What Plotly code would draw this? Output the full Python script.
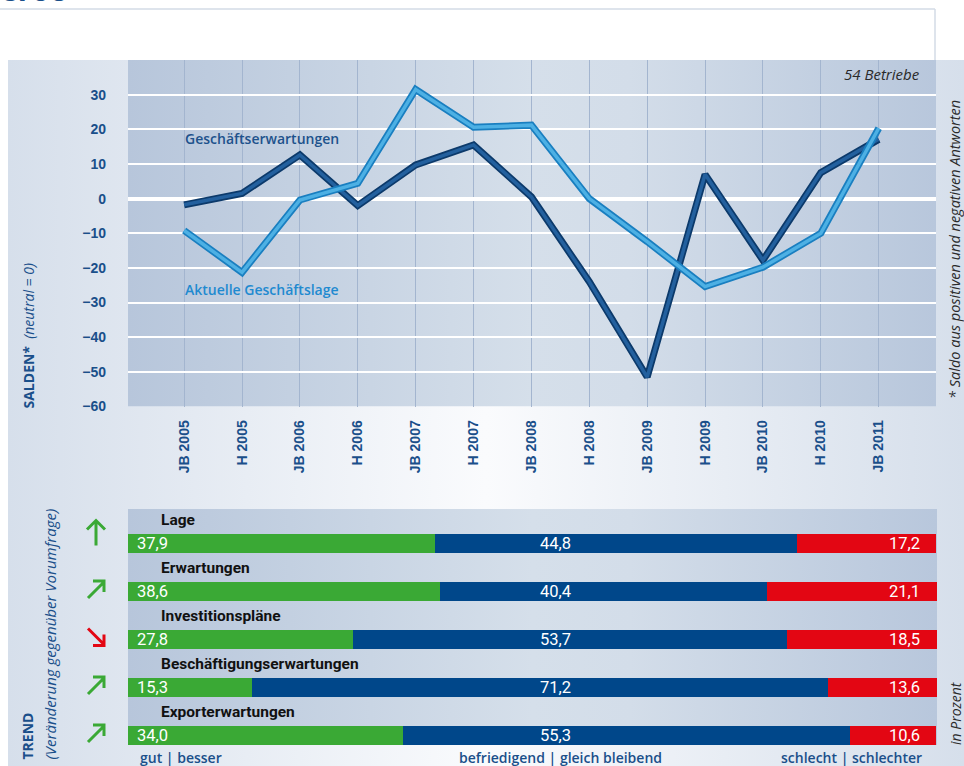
import base64
import plotly.graph_objects as go

# ---------------- data ----------------
categories = ["JB 2005", "H 2005", "JB 2006", "H 2006", "JB 2007", "H 2007", "JB 2008",
              "H 2008", "JB 2009", "H 2009", "JB 2010", "H 2010", "JB 2011"]
erwartungen = [-1.8, 1.5, 12.6, -2.0, 9.7, 15.5, 0.5, -24.0, -51.5, 7.0, -17.8, 7.5, 17.1]
lage = [-9.2, -21.3, -0.4, 4.4, 31.5, 20.6, 21.2, 0.0, -12.4, -25.4, -19.8, -10.0, 20.3]
y_ticks = [-60, -50, -40, -30, -20, -10, 0, 10, 20, 30]

trend_items = ["Lage", "Erwartungen", "Investitionspläne", "Beschäftigungserwartungen", "Exporterwartungen"]
gut = [37.9, 38.6, 27.8, 15.3, 34.0]
befriedigend = [44.8, 40.4, 53.7, 71.2, 55.3]
schlecht = [17.2, 21.1, 18.5, 13.6, 10.6]
trend_dirs = ["up", "upright", "downright", "upright", "upright"]

# ---------------- helpers ----------------
W, H = 964, 766
DARK = "#1a4f8a"
GREEN, BLUE, RED = "#3aa935", "#00478a", "#e30613"
ROW_PX = 48.0


def px_x(x):
    return x / W


def px_y(y):
    return 1 - y / H


def grad(stops):
    s = "".join(f'<stop offset="{o}" stop-color="{c}"/>' for o, c in stops)
    svg = ('<svg xmlns="http://www.w3.org/2000/svg" width="100" height="100" viewBox="0 0 100 100" '
           'preserveAspectRatio="none"><defs><linearGradient id="g" x1="0" y1="0" x2="1" y2="0">'
           f'{s}</linearGradient></defs><rect width="100" height="100" fill="url(#g)"/></svg>')
    return "data:image/svg+xml;base64," + base64.b64encode(svg.encode()).decode()


def fmt(v):
    return f"{v:.1f}".replace(".", ",")


# arrow glyph outlines as pixel offsets (dx, dy) from the icon centre, drawn as strokes
ARROW_PX = {
    "up": [[(0, 13), (0, -12)], [(-9, -3), (0, -12), (9, -3)]],
    "upright": [[(-8, 8), (8, -8)], [(-3, -9), (8, -9), (8, 2)]],
    "downright": [[(-8, -8), (8, 8)], [(-3, 9), (8, 9), (8, -2)]],
}
ARROW_DY = {"up": -11, "upright": -1.5, "downright": -3}


def arrow_path(direction, row, cx_px):
    parts = []
    for seg in ARROW_PX[direction]:
        pts = [(px_x(cx_px + dx), row + (dy + ARROW_DY[direction]) / ROW_PX) for dx, dy in seg]
        parts.append("M " + " L ".join(f"{x:.5f},{y:.5f}" for x, y in pts))
    return " ".join(parts)


fig = go.Figure()

# ---------------- line chart ----------------
line_styles = [
    (erwartungen, "#0c3a6b", "#23609e"),
    (lage, "#1a7fc0", "#4db0e4"),
]
for vals, outer, inner in line_styles:
    fig.add_trace(go.Scatter(x=categories, y=vals, mode="lines",
                             line=dict(color=outer, width=7), hoverinfo="skip",
                             showlegend=False, xaxis="x", yaxis="y"))
    fig.add_trace(go.Scatter(x=categories, y=vals, mode="lines",
                             line=dict(color=inner, width=3.5), hoverinfo="skip",
                             showlegend=False, xaxis="x", yaxis="y"))

# ---------------- trend bars ----------------
rows = list(range(len(trend_items)))
for vals, col in [(gut, GREEN), (befriedigend, BLUE), (schlecht, RED)]:
    fig.add_trace(go.Bar(y=rows, x=vals, orientation="h", width=0.396,
                         marker=dict(color=col, line=dict(width=0)),
                         hoverinfo="skip", showlegend=False, xaxis="x2", yaxis="y2"))

ann = []
shapes = []
for i, name in enumerate(trend_items):
    ann.append(dict(x=3.8, y=i - 0.49, xref="x2", yref="y2", text=f"<b>{name}</b>",
                    showarrow=False, xanchor="left", yanchor="middle",
                    font=dict(family="Roboto", size=15.5, color="#111111")))
    ann.append(dict(x=0.9, y=i, xref="x2", yref="y2", text=fmt(gut[i]), showarrow=False,
                    xanchor="left", yanchor="middle",
                    font=dict(family="Roboto", size=16.5, color="white")))
    ann.append(dict(x=52.9, y=i, xref="x2", yref="y2", text=fmt(befriedigend[i]), showarrow=False,
                    xanchor="center", yanchor="middle",
                    font=dict(family="Roboto", size=16.5, color="white")))
    ann.append(dict(x=98.1, y=i, xref="x2", yref="y2", text=fmt(schlecht[i]), showarrow=False,
                    xanchor="right", yanchor="middle",
                    font=dict(family="Roboto", size=16.5, color="white")))
    col = RED if trend_dirs[i] == "downright" else GREEN
    shapes.append(dict(type="path", xref="paper", yref="y2", path=arrow_path(trend_dirs[i], i, 96),
                       line=dict(color=col, width=3), fillcolor="rgba(0,0,0,0)", layer="above"))

# line labels
ann.append(dict(x=-0.02, y=17.2, xref="x", yref="y", text="Geschäftserwartungen", showarrow=False,
                xanchor="left", yanchor="middle",
                font=dict(family="Open Sans", size=14, color="#1d528c", weight=600)))
ann.append(dict(x=-0.02, y=-26.1, xref="x", yref="y", text="Aktuelle Geschäftslage", showarrow=False,
                xanchor="left", yanchor="middle",
                font=dict(family="Open Sans", size=14, color="#1f8ad0", weight=600)))

# other texts
ann += [
    dict(x=px_x(922), y=px_y(74), xref="paper", yref="paper", text="<i>54 Betriebe</i>",
         showarrow=False, xanchor="right", yanchor="middle",
         font=dict(family="Open Sans", size=15, color="#2a2a2a")),
    dict(x=px_x(955), y=px_y(250), xref="paper", yref="paper",
         text="<i>* Saldo aus positiven und negativen Antworten</i>", textangle=-90,
         showarrow=False, xanchor="center", yanchor="middle",
         font=dict(family="Open Sans", size=14.5, color="#2a2a2a")),
    dict(x=px_x(955), y=px_y(747), xref="paper", yref="paper", text="<i>in Prozent</i>", textangle=-90,
         showarrow=False, xanchor="center", yanchor="bottom",
         font=dict(family="Open Sans", size=14, color="#2a2a2a")),
    dict(x=px_x(28), y=px_y(411), xref="paper", yref="paper",
         text="<b>SALDEN*</b>  <i>(neutral = 0)</i>", textangle=-90,
         showarrow=False, xanchor="center", yanchor="bottom",
         font=dict(family="Open Sans", size=14, color=DARK)),
    dict(x=px_x(27), y=px_y(762), xref="paper", yref="paper", text="<b>TREND</b>", textangle=-90,
         showarrow=False, xanchor="center", yanchor="bottom",
         font=dict(family="Open Sans", size=14, color=DARK)),
    dict(x=px_x(49), y=px_y(762), xref="paper", yref="paper",
         text="<i>(Veränderung gegenüber Vorumfrage)</i>", textangle=-90,
         showarrow=False, xanchor="center", yanchor="bottom",
         font=dict(family="Open Sans", size=15, color=DARK)),
    dict(x=px_x(138), y=px_y(757), xref="paper", yref="paper", text="gut | besser",
         showarrow=False, xanchor="left", yanchor="middle",
         font=dict(family="Open Sans", size=14, color=DARK, weight=600)),
    dict(x=px_x(560), y=px_y(757), xref="paper", yref="paper", text="befriedigend | gleich bleibend",
         showarrow=False, xanchor="center", yanchor="middle",
         font=dict(family="Open Sans", size=14, color=DARK, weight=600)),
    dict(x=px_x(924), y=px_y(757), xref="paper", yref="paper", text="schlecht | schlechter",
         showarrow=False, xanchor="right", yanchor="middle",
         font=dict(family="Open Sans", size=14, color=DARK, weight=600)),
    dict(x=px_x(-2), y=px_y(12), xref="paper", yref="paper", text="<b>eroc</b>",
         showarrow=False, xanchor="left", yanchor="bottom",
         font=dict(family="Open Sans", size=30, color=DARK)),
]

panel_grad = grad([(0, "#d6dfeb"), (0.5, "#fafbfd"), (1, "#d6dfeb")])
plot_grad = grad([(0, "#b7c6db"), (0.5, "#d5dfea"), (0.62, "#d3dde9"), (1, "#b8c7dc")])

images = [
    dict(source=panel_grad, xref="paper", yref="paper", x=px_x(8), y=px_y(60),
         sizex=px_x(964 - 8), sizey=(766 - 60) / H, xanchor="left", yanchor="top",
         sizing="stretch", layer="below"),
    dict(source=plot_grad, xref="paper", yref="paper", x=px_x(128), y=px_y(60),
         sizex=px_x(936 - 128), sizey=(406.5 - 60) / H, xanchor="left", yanchor="top",
         sizing="stretch", layer="below"),
    dict(source=plot_grad, xref="paper", yref="paper", x=px_x(128), y=px_y(509),
         sizex=px_x(937 - 128), sizey=(745 - 509) / H, xanchor="left", yanchor="top",
         sizing="stretch", layer="below"),
]

shapes += [
    dict(type="line", xref="paper", yref="paper", x0=0, x1=px_x(935), y0=px_y(9), y1=px_y(9),
         line=dict(color="#d3dbe6", width=1.5), layer="below"),
    dict(type="line", xref="paper", yref="paper", x0=px_x(935), x1=px_x(935), y0=px_y(9), y1=px_y(60),
         line=dict(color="#d3dbe6", width=1.5), layer="below"),
]

fig.update_layout(
    width=W, height=H,
    margin=dict(l=0, r=0, t=0, b=0, autoexpand=False),
    paper_bgcolor="white", plot_bgcolor="rgba(0,0,0,0)",
    barmode="stack", bargap=0,
    showlegend=False,
    images=images, shapes=shapes, annotations=ann,
    xaxis=dict(domain=[px_x(128), px_x(936)], type="category", range=[-0.97, 12.99],
               showgrid=True, gridcolor="#a3b5cf", gridwidth=1, zeroline=False, showline=False,
               ticks="", tickangle=-90, ticklabelstandoff=10, automargin=False,
               tickfont=dict(family="Liberation Sans", size=14, color=DARK, weight="bold"),
               anchor="y", fixedrange=True),
    yaxis=dict(domain=[px_y(406.5), px_y(60)], range=[-60, 40], tickvals=y_ticks,
               showgrid=True, gridcolor="white", gridwidth=2,
               zeroline=True, zerolinecolor="white", zerolinewidth=4, showline=False,
               ticks="", ticklabelstandoff=21, automargin=False,
               tickfont=dict(family="Liberation Sans", size=14, color=DARK, weight="bold"),
               anchor="x", fixedrange=True),
    xaxis2=dict(domain=[px_x(128), px_x(937)], range=[0, 100], visible=False, anchor="y2",
                fixedrange=True),
    yaxis2=dict(domain=[px_y(745), px_y(509)], range=[4.198, -0.719], visible=False, anchor="x2",
                fixedrange=True),
)

post = ("var s=document.createElement('style');"
        "s.textContent='html,body{margin:0;padding:0;height:766px;width:964px;overflow:hidden;}';"
        "document.head.appendChild(s);")
fig.write_html("out.html", config={"displayModeBar": False}, post_script=post)
